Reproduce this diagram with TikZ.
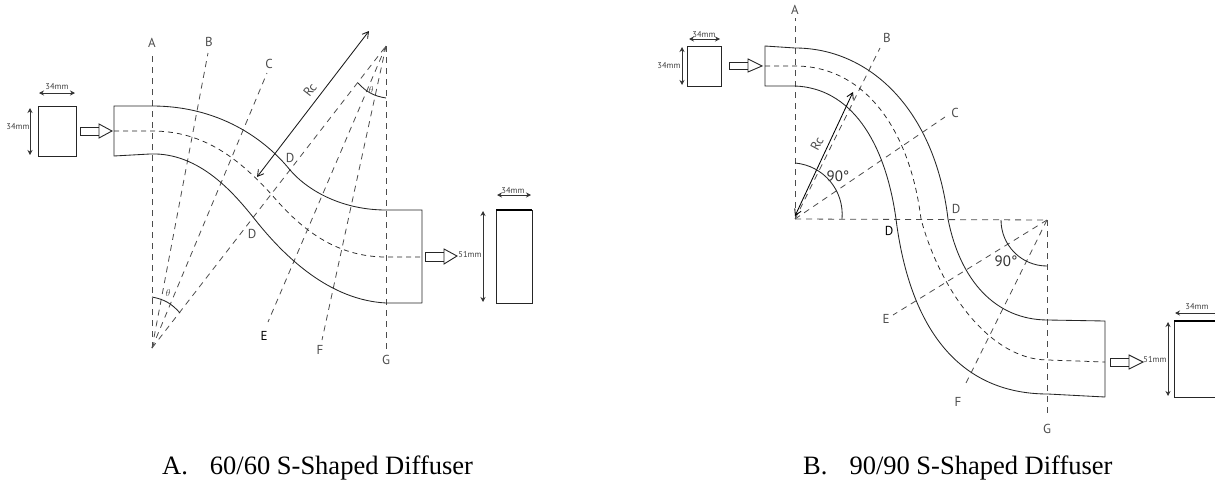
\documentclass[tikz,border=0pt]{standalone}
\usepackage{fontspec}
\setmainfont{Liberation Serif}
\newfontfamily\labelfont{PT Sans}
\usetikzlibrary{arrows.meta}

\tikzset{
  duct/.style={draw=black!85, line width=0.85pt},
  secline/.style={draw=black!70, line width=0.8pt, dash pattern=on 6pt off 5pt},
  midline/.style={draw=black!85, line width=0.75pt, dash pattern=on 5pt off 4pt},
  dimline/.style={draw=black!80, line width=0.8pt, {Stealth[length=5pt,width=5pt]}-{Stealth[length=5pt,width=5pt]}},
  rcline/.style={draw=black!90, line width=0.85pt, {Straight Barb[length=6pt,width=7pt]}-{Straight Barb[length=6pt,width=7pt]}},
  flowarrow/.style={draw=black!85, line width=0.9pt, fill=white},
  seclabel/.style={font=\labelfont\fontsize{13}{15}\selectfont, text=black!70, inner sep=0pt},
  smalllabel/.style={font=\labelfont\fontsize{10}{12}\selectfont, text=black!70, inner sep=0pt},
  anglelabel/.style={font=\labelfont\fontsize{15}{17}\selectfont, text=black!80, inner sep=0pt},
  dimlabel/.style={font=\labelfont\fontsize{8.5}{10}\selectfont, text=black!75, inner sep=0pt},
  caption/.style={font=\fontsize{26.5}{30}\selectfont, text=black, inner sep=0pt, anchor=base west}
}

\begin{document}
\begin{tikzpicture}[x=1pt,y=-1pt]
    \useasboundingbox (0,0) rectangle (1215,482);
    % A. 60/60
    \coordinate (OA) at (152,348);
    \coordinate (OB) at (386,46);
    \coordinate (Atop) at (152,52);
    \coordinate (Btop) at (208,53);
    \coordinate (Ctop) at (267,73);
    \coordinate (Eend) at (268,322);
    \coordinate (Fend) at (322,340);
    \coordinate (Gend) at (386,350);
    \draw[secline] (OA) -- (Atop);
    \draw[secline] (OA) -- (Btop);
    \draw[secline] (OA) -- (Ctop);
    \draw[secline] (OA) -- (OB);
    \draw[secline] (OB) -- (Eend);
    \draw[secline] (OB) -- (Fend);
    \draw[secline] (OB) -- (Gend);
    %
    \draw[duct] (422,303) -- (422,210) -- (386,210) .. controls (345,210) and (310,193) .. (290,170) .. controls (270,145) and (225,106) .. (152,106) -- (114,106) -- (114,156) -- (150,154) .. controls (200,152) and (235,195) .. (253,217) .. controls (285,258) and (330,300) .. (386,303) -- (422,303);
    \draw[midline] (114,131) -- (152,131) .. controls (205,131) and (240,160) .. (272,195) .. controls (300,228) and (335,257) .. (386,257) -- (422,257);
    %
    \draw[duct] (38,106) rectangle (76,156);
    \coordinate (a1) at (39,93);
    \coordinate (a2) at (75,93);
    \draw[dimline] (a1) -- (a2);
    \node[dimlabel] (wa) at (57,87) {34mm};
    \coordinate (a3) at (30,108);
    \coordinate (a4) at (30,155);
    \draw[dimline] (a3) -- (a4);
    \node[dimlabel] (ha) at (18,127) {34mm};
    \draw[flowarrow] (80,127) rectangle (99,135);
    \draw[flowarrow] (99,124) -- (112,131) -- (99,138) -- cycle;
    %
    \draw[flowarrow] (425,252) rectangle (444,261);
    \draw[flowarrow] (444,249) -- (457,256) -- (444,264) -- cycle;
    \node[dimlabel] (hb) at (470,255) {51mm};
    \coordinate (b3) at (483,211);
    \coordinate (b4) at (483,302);
    \draw[dimline] (b3) -- (b4);
    \draw[duct] (496,210) rectangle (532,303);
    \draw[black, line width=1.2pt] (496,210) -- (532,210);
    \coordinate (b1) at (497,195);
    \coordinate (b2) at (531,195);
    \draw[dimline] (b1) -- (b2);
    \node[dimlabel] (wb) at (513,191) {34mm};
    %
    \coordinate (rc1) at (369,31);
    \coordinate (rc2) at (257,177);
    \draw[rcline] (rc1) -- (rc2);
    \node[seclabel, rotate=52] (rca) at (310,90) {Rc};
    \coordinate (t1) at (152,297);
    \coordinate (t2) at (180,313);
    \draw[duct] (t1) to[bend left=19] (t2);
    \coordinate (t3) at (386,98);
    \coordinate (t4) at (358,83);
    \draw[duct] (t3) to[bend left=19] (t4);
    \node[smalllabel] (tha) at (168,293) {$\theta$};
    \node[smalllabel] (thb) at (371,90) {$\theta$};
    %
    \node[seclabel] (A) at (152,43) {A};
    \node[seclabel] (B) at (209,42) {B};
    \node[seclabel] (C) at (269,64) {C};
    \node[seclabel] (Da) at (290,158) {D};
    \node[seclabel] (Db) at (252,234) {D};
    \node[seclabel, text=black] (E) at (264,336) {E};
    \node[seclabel] (F) at (320,350) {F};
    \node[seclabel] (G) at (386,360) {G};
    \node[caption] (capA) at (162,474) {A.\hspace{22pt}60/60 S-Shaped Diffuser};
    % B. 90/90
    \coordinate (OC) at (795,219);
    \coordinate (OD) at (1047,220);
    \coordinate (Atwo) at (795,18);
    \coordinate (Btwo) at (880,48);
    \coordinate (Ctwo) at (945,117);
    \coordinate (Etwo) at (893,315);
    \coordinate (Ftwo) at (965,385);
    \coordinate (Gtwo) at (1047,417);
    \draw[secline] (OC) -- (Atwo);
    \draw[secline] (OC) -- (Btwo);
    \draw[secline] (OC) -- (Ctwo);
    \draw[secline] (OC) -- (OD);
    \draw[secline] (OD) -- (Etwo);
    \draw[secline] (OD) -- (Ftwo);
    \draw[secline] (OD) -- (Gtwo);
    %
    \draw[duct] (1105,397) -- (1105,321) -- (1048,320) .. controls (995,320) and (960,280) .. (948,219) .. controls (935,110) and (870,48) .. (795,48) -- (765,46) -- (765,86) -- (795,86) .. controls (850,88) and (885,140) .. (896,219) .. controls (910,330) and (960,394) .. (1048,394) -- (1105,397);
    \draw[midline] (765,66) -- (795,66) .. controls (865,66) and (910,130) .. (921,219) .. controls (940,290) and (990,360) .. (1048,360) -- (1105,362);
    %
    \draw[duct] (687,46) rectangle (721,86);
    \coordinate (c1) at (689,39);
    \coordinate (c2) at (720,39);
    \draw[dimline] (c1) -- (c2);
    \node[dimlabel] (wc) at (704,35) {34mm};
    \coordinate (c3) at (682,47);
    \coordinate (c4) at (682,85);
    \draw[dimline] (c3) -- (c4);
    \node[dimlabel] (hc) at (669,66) {34mm};
    \draw[flowarrow] (729,62) rectangle (748,69);
    \draw[flowarrow] (748,59) -- (762,66) -- (748,72) -- cycle;
    %
    \draw[flowarrow] (1110,358) rectangle (1129,366);
    \draw[flowarrow] (1129,355) -- (1143,362) -- (1129,369) -- cycle;
    \node[dimlabel] (hd) at (1155,360) {51mm};
    \coordinate (d3) at (1168,322);
    \coordinate (d4) at (1168,396);
    \draw[dimline] (d3) -- (d4);
    \draw[duct] (1174,321) rectangle (1220,397);
    \draw[black, line width=1.2pt] (1174,321) -- (1215,321);
    \coordinate (d1) at (1175,313);
    \coordinate (d2) at (1220,313);
    \draw[dimline] (d1) -- (d2);
    \node[dimlabel] (wd) at (1197,307) {34mm};
    %
    \coordinate (rc3) at (853,92);
    \coordinate (rc4) at (795,216);
    \draw[rcline, draw=black] (rc3) -- (rc4);
    \node[seclabel, rotate=62] (rcb) at (817,144) {Rc};
    \coordinate (t5) at (795,163);
    \coordinate (t6) at (842,219);
    \draw[duct] (t5) to[bend left=45] (t6);
    \coordinate (t7) at (1047,266);
    \coordinate (t8) at (1001,220);
    \draw[duct] (t7) to[bend left=45] (t8);
    \node[anglelabel] (nc) at (838,176) {90°};
    \node[anglelabel] (nd) at (1006,261) {90°};
    %
    \node[seclabel] (A2) at (795,10) {A};
    \node[seclabel] (B2) at (887,38) {B};
    \node[seclabel] (C2) at (955,113) {C};
    \node[seclabel] (D2a) at (956,209) {D};
    \node[seclabel, text=black] (D2b) at (889,231) {D};
    \node[seclabel] (E2) at (886,319) {E};
    \node[seclabel] (F2) at (958,402) {F};
    \node[seclabel] (G2) at (1047,429) {G};
    \node[caption] (capB) at (803,474) {B.\hspace{22pt}90/90 S-Shaped Diffuser};
\end{tikzpicture}
\end{document}
